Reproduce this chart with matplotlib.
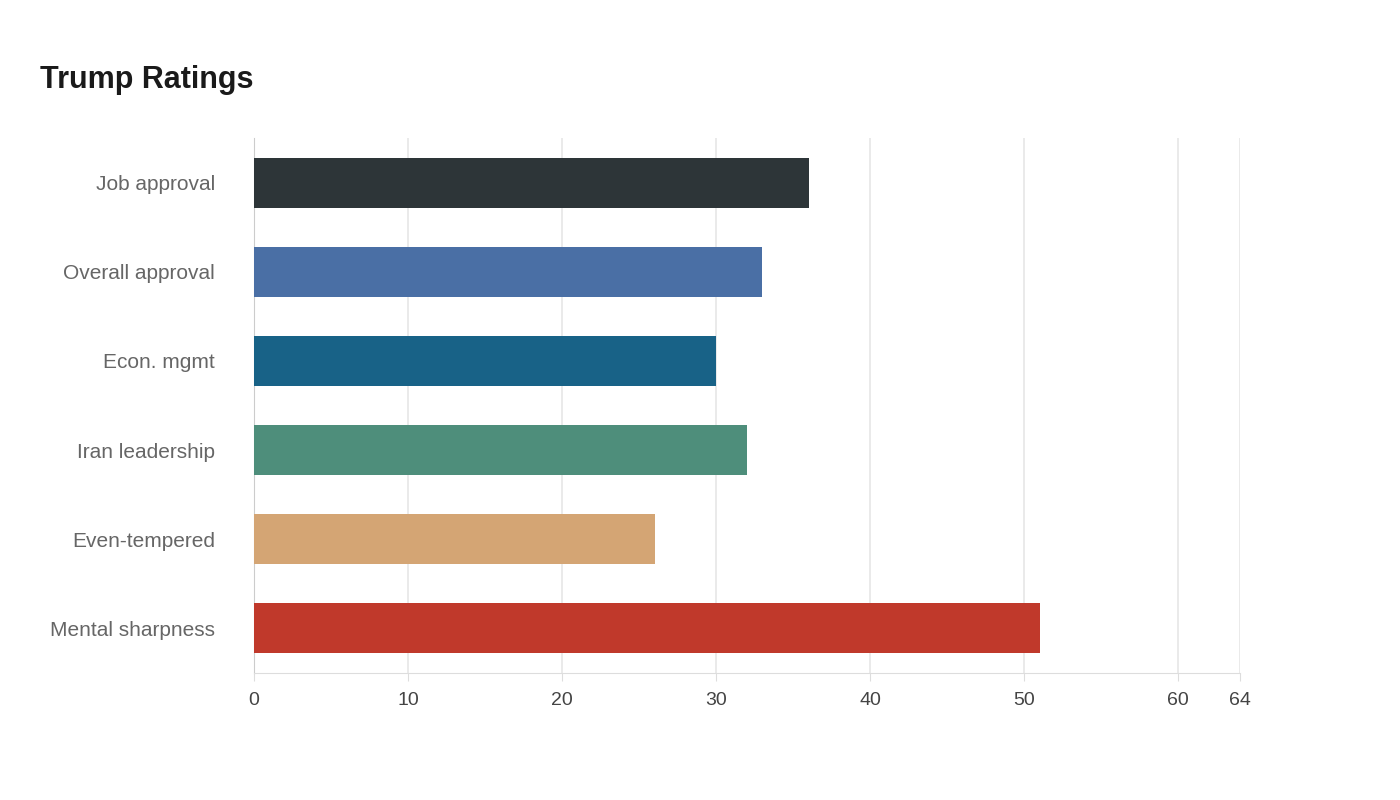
import matplotlib
matplotlib.use("Agg")
import matplotlib.pyplot as plt

plt.rcParams['font.family'] = ['Liberation Sans', 'DejaVu Sans']

categories = ["Job approval", "Overall approval", "Econ. mgmt", "Iran leadership", "Even-tempered", "Mental sharpness"]
values = [36, 33, 30, 32, 26, 51]
colors = ["#2d3538", "#4a6fa5", "#186287", "#4e8e7b", "#d4a574", "#c0392b"]
ticks = [0, 10, 20, 30, 40, 50, 60, 64]

fig = plt.figure(figsize=(14, 8), dpi=100)
ax = fig.add_axes([254/1400, 1-673/800, (1240-254)/1400, (673-138)/800])
ypos = list(range(len(categories)))
bars = ax.barh(ypos, values, height=0.56, color=colors, zorder=3)
for b, v in zip(bars, values):
    t = ax.text(v, b.get_y() + b.get_height()/2, str(v), color="white", fontsize=15,
                fontweight="bold", ha="left", va="center", zorder=4)
    t.set_clip_path(b)
ax.set_ylim(5.5 + 0.0, -0.5 - 0.0)
ax.set_ylim(len(categories) - 0.5 + 0.0, -0.5)
ax.set_xlim(0, 64)
ax.set_xticks(ticks)
ax.set_xticklabels([str(t) for t in ticks], fontsize=14, color="#444444")
ax.set_yticks(ypos)
ax.set_yticklabels(categories, fontsize=15, color="#666666")
ax.tick_params(axis="y", length=0, pad=28)
ax.tick_params(axis="x", length=6, color="#dddddd", pad=8)
ax.grid(axis="x", color="#e6e6e6", linewidth=1.2, zorder=0)
for s in ["top", "right"]:
    ax.spines[s].set_visible(False)
ax.spines["left"].set_color("#cccccc")
ax.spines["bottom"].set_color("#dddddd")
fig.text(40/1400, 1-80/800, "Trump Ratings", fontsize=22, fontweight="bold", color="#1a1a1a", va="center")
fig.savefig("out.png", dpi=100, facecolor="white")
